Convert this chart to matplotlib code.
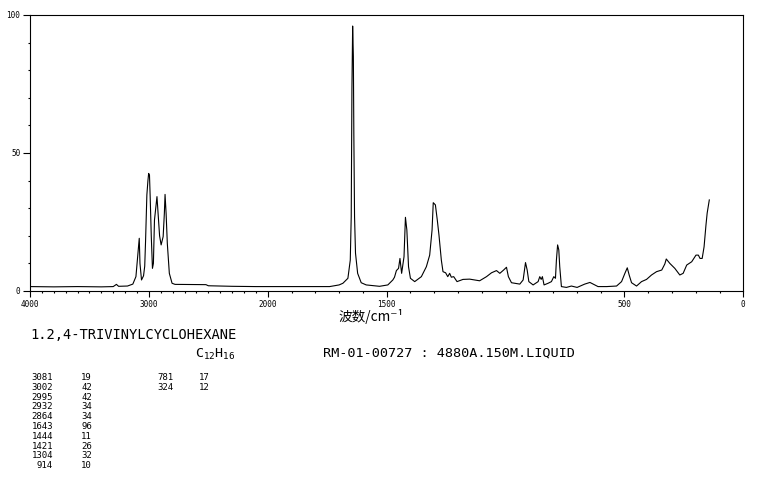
import matplotlib
matplotlib.use('Agg')
import matplotlib.pyplot as plt
import numpy as np
from matplotlib.ticker import FixedLocator

plt.rcParams['font.family'] = ['DejaVu Sans Mono']

# spectrum (wavenumber cm-1, intensity)
wavenumber = [4000, 3800, 3600, 3400, 3300, 3273, 3255, 3180, 3135, 3109,
              3090, 3081, 3075, 3062, 3045, 3035, 3028, 3017, 3008, 3002,
              2995, 2989, 2980, 2970, 2962, 2953, 2940, 2932, 2919, 2910,
              2897, 2880, 2870, 2864, 2855, 2845, 2828, 2805, 2780, 2520,
              2500, 2300, 2100, 2000, 1900, 1740, 1700, 1684, 1663, 1653,
              1649, 1646, 1643, 1640, 1638, 1635, 1631, 1622, 1607, 1586,
              1530, 1495, 1474, 1467, 1459, 1450, 1444, 1437, 1427, 1421,
              1415, 1408, 1400, 1382, 1354, 1333, 1319, 1309, 1304, 1295,
              1287, 1280, 1270, 1263, 1252, 1243, 1235, 1228, 1218, 1204,
              1179, 1151, 1109, 1080, 1059, 1038, 1024, 1008, 996, 988,
              975, 940, 926, 916, 909, 902, 884, 863, 856, 850,
              845, 838, 821, 807, 797, 790, 786, 781, 776, 772,
              765, 744, 723, 699, 667, 645, 631, 611, 575, 533,
              512, 498, 488, 480, 470, 449, 428, 407, 386, 365,
              343, 330, 324, 309, 288, 267, 253, 238, 217, 199,
              189, 182, 173, 165, 157, 152, 143]
intensity = [1.6, 1.5, 1.6, 1.5, 1.6, 2.4, 1.7, 1.8, 2.5, 5.2,
             14.9, 19.1, 10, 4, 5.5, 9, 18, 34.8, 40, 42.6,
             42, 34, 20, 8.2, 10, 25.7, 31, 34.2, 25.7, 20,
             16.7, 19.7, 28, 35, 28, 17.3, 6.4, 2.8, 2.4, 2.3,
             1.9, 1.7, 1.6, 1.6, 1.6, 1.6, 2.2, 2.8, 4.6, 11.2,
             26.9, 73.4, 96, 85, 57, 26.9, 13.7, 6.4, 3, 2.2,
             1.7, 2.2, 4, 5, 7.4, 8.2, 11.8, 6.4, 12.4, 26.7,
             22.1, 8.8, 4.6, 3.4, 5.2, 8.8, 13, 22.1, 32, 31.2,
             25.7, 20.3, 11.2, 7, 6.6, 5.2, 6.4, 5, 5.2, 3.4,
             4.2, 4.3, 3.7, 5.2, 6.6, 7.4, 6.4, 7.6, 8.6, 5.2,
             3, 2.5, 4, 10.3, 7.6, 3.4, 2.2, 3.4, 5.2, 4.2,
             5.2, 2.2, 2.8, 3.4, 5.2, 4.6, 11.2, 16.7, 14.9, 8.8,
             1.6, 1.3, 1.8, 1.3, 2.5, 3.1, 2.5, 1.6, 1.6, 1.8,
             3.4, 6.4, 8.4, 5.8, 3, 1.8, 3.4, 4.2, 5.8, 7,
             7.6, 9.8, 11.6, 10, 8.2, 5.8, 6.4, 9.4, 10.6, 13,
             13, 11.8, 11.8, 16, 23.9, 28.2, 33]

# peak table
peak_wn_1 = ['3081', '3002', '2995', '2932', '2864', '1643', '1444', '1421', '1304', '914']
peak_int_1 = ['19', '42', '42', '34', '34', '96', '11', '26', '32', '10']
peak_wn_2 = ['781', '324']
peak_int_2 = ['17', '12']

xticks = [4000, 3000, 2000, 1500, 500, 0]


def fwd(x):
    x = np.asarray(x, dtype=float)
    return np.where(x <= 2000, 2 * x, x + 2000)


def inv(u):
    u = np.asarray(u, dtype=float)
    return np.where(u <= 4000, u / 2, u - 2000)


fig = plt.figure(figsize=(7.65, 4.8), dpi=100)
ax = fig.add_axes([30 / 765, 1 - 291 / 480, 713.3 / 765, 276 / 480])
ax.set_xscale('function', functions=(fwd, inv))
ax.plot(wavenumber, intensity, color='black', lw=0.8)
ax.set_xlim(4000, 0)
ax.set_ylim(0, 100)

ax.xaxis.set_major_locator(FixedLocator(xticks))
ax.set_xticklabels([str(t) for t in xticks])
ax.xaxis.set_minor_locator(FixedLocator(list(range(0, 4001, 100))))
ax.yaxis.set_major_locator(FixedLocator([0, 50, 100]))
ax.yaxis.set_minor_locator(FixedLocator(list(range(0, 101, 10))))

ax.tick_params(axis='x', which='major', direction='out', length=4.2, width=0.8,
               labelsize=5.5, pad=2.5)
ax.tick_params(axis='y', which='major', direction='out', length=5, width=0.8,
               labelsize=5.5, pad=2)
ax.tick_params(which='minor', direction='out', length=1.6, width=0.8)
for s in ax.spines.values():
    s.set_linewidth(0.8)

fig.text(338 / 765, 1 - 321.5 / 480, '波数/cm⁻¹', family=['Noto Sans CJK SC', 'DejaVu Sans'],
         fontsize=9.8, ha='left', va='baseline')

fig.text(30 / 765, 1 - 335 / 480, '1.2,4-TRIVINYLCYCLOHEXANE', fontsize=9.9,
         ha='left', va='center')
fig.text(236 / 765, 1 - 354 / 480, r'$\mathtt{C}_{\mathtt{12}}\mathtt{H}_{\mathtt{16}}$',
         fontsize=9.6, ha='right', va='center')
fig.text(323 / 765, 1 - 353 / 480, 'RM-01-00727 : 4880A.150M.LIQUID', fontsize=9.7,
         ha='left', va='center')

for i in range(len(peak_wn_1)):
    y = 1 - (377.5 + i * 9.8) / 480
    fig.text(53 / 765, y, peak_wn_1[i], fontsize=6.5, ha='right', va='center')
    fig.text(81 / 765, y, peak_int_1[i], fontsize=6.5, ha='left', va='center')
for i in range(len(peak_wn_2)):
    y = 1 - (377.5 + i * 9.8) / 480
    fig.text(173 / 765, y, peak_wn_2[i], fontsize=6.5, ha='right', va='center')
    fig.text(199 / 765, y, peak_int_2[i], fontsize=6.5, ha='left', va='center')

fig.savefig('out.png', dpi=100)
